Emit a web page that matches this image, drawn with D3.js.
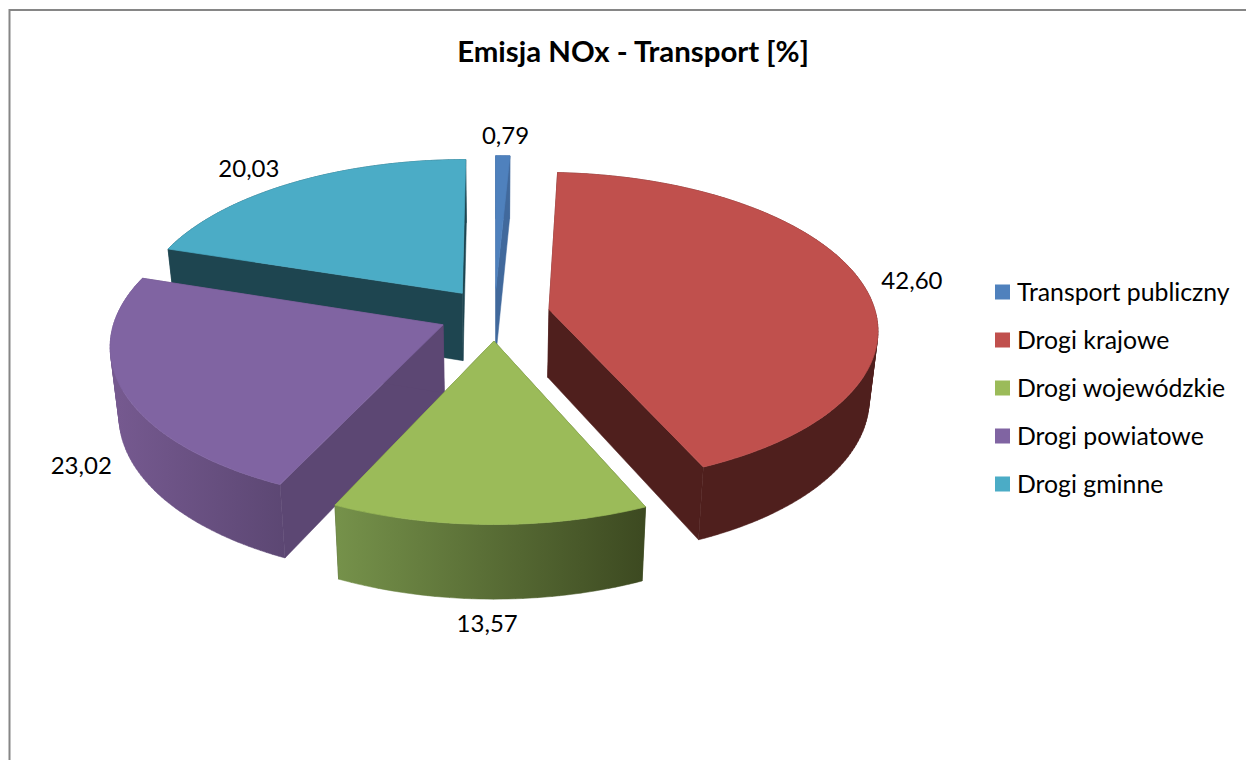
<!DOCTYPE html>
<html lang="pl">
<head>
<meta charset="utf-8">
<script src="https://cdn.jsdelivr.net/npm/d3@7"></script>
<style>
  html, body { margin: 0; padding: 0; background: #fff; overflow: hidden; }
  text { font-family: Lato, "Open Sans", sans-serif; fill: #000; }
</style>
</head>
<body>
<svg id="chart" width="1246" height="760"></svg>
<script>
const categories = ["Transport publiczny", "Drogi krajowe", "Drogi wojewódzkie", "Drogi powiatowe", "Drogi gminne"];
const values = [0.79, 42.6, 13.57, 23.02, 20.03];
const valueLabels = ["0,79", "42,60", "13,57", "23,02", "20,03"];
const topColors = ["#4f81bd", "#c0504d", "#9bbb59", "#8064a2", "#4bacc6"];
const radialWallColors = ["#41699c", "#4f1f1d", "#3e4c22", "#5c4773", "#1e4550"];
const rimColorsLeft = ["#41699c", "#4f1f1d", "#75914a", "#75598f", "#1e4550"];
const rimColorsRight = ["#41699c", "#4f1f1d", "#3d4a21", "#5c4773", "#1e4550"];

const WIDTH = 1246;
const HEIGHT = 760;
const EXPLODE = 0.17;
const WALL_HEIGHT = 68;
const WALL_GROWTH = 0.6;
const BOTTOM_SHRINK = 0.977;
const PERSPECTIVE = 0.12;
const LABEL_RADIUS = 1.12;

const svg = d3.select("#chart");
const defs = svg.append("defs");

// ground plane: x runs right, y runs towards the viewer, both -1..1 for an unexploded pie
const xScale = d3.scaleLinear().domain([-1, 1]).range([494.5 - 327, 494.5 + 327]);
const yScale = d3.scaleLinear().domain([-1, 1]).range([314.2 - 154.5, 314.2 + 154.5]);

function wallAt(s) {
  return WALL_HEIGHT * (1 + WALL_GROWTH * (s - 1));
}

function project(x, y, bottom) {
  const s = 1 / (1 - PERSPECTIVE * y);
  const sx = xScale(0) + (xScale(x) - xScale(0)) * s * (bottom ? BOTTOM_SHRINK : 1);
  const sy = yScale(0) + (yScale(y) - yScale(0)) * s + (bottom ? wallAt(s) : 0);
  return [sx, sy];
}

const pie = d3.pie().sort(null).value(d => d);
const slices = pie(values).map((d, i) => {
  const mid = (d.startAngle + d.endAngle) / 2;
  return {
    i,
    start: d.startAngle,
    end: d.endAngle,
    mid,
    ox: Math.sin(mid) * EXPLODE,
    oy: -Math.cos(mid) * EXPLODE
  };
});

function rimPoints(s, bottom) {
  const n = Math.max(2, Math.ceil((s.end - s.start) / 0.02));
  return d3.range(n + 1).map(k => {
    const a = s.start + (s.end - s.start) * k / n;
    return project(s.ox + Math.sin(a), s.oy - Math.cos(a), bottom);
  });
}

const line = d3.line().curve(d3.curveLinearClosed);

// one quad per rim step, all wound the same way so the whole strip fills as one shape
function rimStripPath(topRim, bottomRim) {
  return d3.range(topRim.length - 1).map(k => {
    const quad = [topRim[k], topRim[k + 1], bottomRim[k + 1], bottomRim[k]];
    return line(d3.polygonArea(quad) < 0 ? quad.reverse() : quad);
  }).join("");
}

// back to front
const order = slices.slice().sort((a, b) => d3.ascending(-Math.cos(a.mid), -Math.cos(b.mid)));

order.forEach(s => {
  const g = svg.append("g");
  const topRim = rimPoints(s, false);
  const bottomRim = rimPoints(s, true);
  const apexTop = project(s.ox, s.oy, false);
  const apexBottom = project(s.ox, s.oy, true);

  [[topRim[0], bottomRim[0]], [topRim[topRim.length - 1], bottomRim[bottomRim.length - 1]]].forEach(edge => {
    g.append("path")
      .attr("d", line([apexTop, edge[0], edge[1], apexBottom]))
      .attr("fill", radialWallColors[s.i])
      .attr("stroke", radialWallColors[s.i])
      .attr("stroke-width", 0.5);
  });

  const gradId = `rim-gradient-${s.i}`;
  const xExtent = d3.extent(bottomRim, p => p[0]);
  const gradient = defs.append("linearGradient")
    .attr("id", gradId)
    .attr("gradientUnits", "userSpaceOnUse")
    .attr("x1", xExtent[0])
    .attr("x2", xExtent[1])
    .attr("y1", 0)
    .attr("y2", 0);
  gradient.append("stop").attr("offset", "0%").attr("stop-color", rimColorsLeft[s.i]);
  gradient.append("stop").attr("offset", "100%").attr("stop-color", rimColorsRight[s.i]);

  g.append("path")
    .attr("d", rimStripPath(topRim, bottomRim))
    .attr("fill", `url(#${gradId})`)
    .attr("stroke", `url(#${gradId})`)
    .attr("stroke-width", 0.5);

  // same-colour stroke hides the wall stroke along the top face edges
  g.append("path")
    .attr("d", line([apexTop].concat(topRim)))
    .attr("fill", topColors[s.i])
    .attr("stroke", topColors[s.i])
    .attr("stroke-width", 0.7)
    .attr("stroke-linejoin", "round");
});

// data labels sit just outside the rim, below the wall on the front half
const labelNudgeX = [2, 14, -2, -1, -25];
const labelNudgeY = [-6, 2, -2, -4, -2];
slices.forEach(s => {
  const x = s.ox + Math.sin(s.mid) * LABEL_RADIUS;
  const y = s.oy - Math.cos(s.mid) * LABEL_RADIUS;
  const p = project(x, y, false);
  const f = 1 / (1 - PERSPECTIVE * y);
  svg.append("text")
    .attr("x", p[0] + labelNudgeX[s.i])
    .attr("y", p[1] + labelNudgeY[s.i] + (y > 0 ? wallAt(f) : 0))
    .attr("dy", "0.35em")
    .attr("text-anchor", "middle")
    .attr("font-size", 24)
    .text(valueLabels[s.i]);
});

svg.append("text")
  .attr("x", 633)
  .attr("y", 62)
  .attr("text-anchor", "middle")
  .attr("font-size", 29.4)
  .attr("font-weight", 700)
  .text("Emisja NOx - Transport [%]");

const legendY = d3.scalePoint().domain(categories).range([292, 484]);
const legend = svg.selectAll(".legend-item")
  .data(categories)
  .join("g")
  .attr("class", "legend-item")
  .attr("transform", d => `translate(995,${legendY(d)})`);
legend.append("rect")
  .attr("x", 0)
  .attr("y", -7.5)
  .attr("width", 15)
  .attr("height", 15)
  .attr("fill", (d, i) => topColors[i]);
legend.append("text")
  .attr("x", 22)
  .attr("dy", "0.35em")
  .attr("font-size", 24.8)
  .text(d => d);

// chart frame, runs off the right and bottom of the picture
svg.append("rect")
  .attr("x", 9.5)
  .attr("y", 10)
  .attr("width", WIDTH)
  .attr("height", HEIGHT)
  .attr("fill", "none")
  .attr("stroke", "#868686")
  .attr("stroke-width", 2);
</script>
</body>
</html>
